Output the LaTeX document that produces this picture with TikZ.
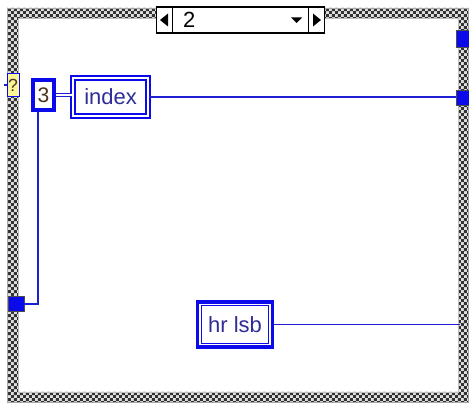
\documentclass[tikz,border=0pt]{standalone}
\usepackage{fontspec}
\setmainfont{Liberation Sans}
\usepackage{tikz}
\usetikzlibrary{positioning, calc, patterns}
\definecolor{lvblue}{RGB}{10,10,235}
\definecolor{wireblue}{RGB}{30,30,210}
\definecolor{lvtext}{RGB}{45,45,150}
\definecolor{qyellow}{RGB}{250,245,150}
\pgfdeclarepatternformonly{finechecker}{\pgfqpoint{0pt}{0pt}}{\pgfqpoint{3.4pt}{3.4pt}}{\pgfqpoint{3.4pt}{3.4pt}}%
  {\pgfpathrectangle{\pgfqpoint{0pt}{0pt}}{\pgfqpoint{1.7pt}{1.7pt}}%
   \pgfpathrectangle{\pgfqpoint{1.7pt}{1.7pt}}{\pgfqpoint{1.7pt}{1.7pt}}\pgfusepath{fill}}
\tikzset{
  selbox/.style={rectangle, draw=black, fill=white, line width=0.7pt, inner sep=0pt,
                 minimum width=3.36cm, minimum height=0.52cm},
  arrbox/.style={rectangle, draw=black, line width=0.7pt, inner sep=0pt,
                 minimum width=0.31cm, minimum height=0.52cm},
  tunnel/.style={rectangle, draw=black!70, fill=lvblue, line width=0.4pt, inner sep=0pt},
  const/.style={rectangle, draw=lvblue, fill=white, line width=1.9pt, inner sep=0pt,
                font=\fontsize{12}{14}\selectfont, text=brown!40!black},
  ctrl/.style={rectangle, draw=lvblue, double=white, line width=0.8pt, double distance=1.3pt,
               inner sep=0pt, font=\fontsize{12.5}{14}\selectfont, text=lvtext},
  ind/.style={rectangle, draw=lvblue, fill=white, line width=2pt, inner sep=0pt,
              font=\fontsize{12.5}{14}\selectfont, text=lvtext},
  wire/.style={draw=wireblue, line width=0.85pt}
}
\begin{document}
\begin{tikzpicture}[x=0.02cm, y=-0.02cm]
  \useasboundingbox (0,0) rectangle (469,404);
  % case frame
  \fill[gray!25, even odd rule] (7,8) rectangle (468,402) (18,18) rectangle (458,392);
  \fill[pattern=finechecker, pattern color=black!80, even odd rule]
    (7,8) rectangle (468,402) (18,18) rectangle (458,392);
  \draw[gray!70, line width=0.5pt] (7,8) rectangle (468,402);
  \draw[gray!50, line width=0.4pt] (18,18) rectangle (458,392);

  % selector label
  \node[selbox] (sel) at (240.5,20) {};
  \node[arrbox] (selL) at (164.5,20) {};
  \node[arrbox] (selR) at (316.5,20) {};
  \fill (selL.center) ++(-4.5,0) -- ++(8,-6.5) -- ++(0,13) -- cycle;
  \fill (selR.center) ++(4.5,0) -- ++(-8,-6.5) -- ++(0,13) -- cycle;
  \fill (selR.west) ++(-17,-2.5) -- ++(11,0) -- ++(-5.5,5.5) -- cycle;
  \node[anchor=west, inner sep=0pt, font=\fontsize{12.5}{14}\selectfont, xshift=0.2cm] (val) at (selL.east) {2};

  % terminals
  \node[rectangle, draw=lvblue, fill=qyellow, line width=0.5pt, inner sep=0pt,
        minimum width=0.24cm, minimum height=0.46cm, font=\fontsize{10}{11}\selectfont,
        text=brown!40!black] (q) at (13,85) {?};
  \node[const, minimum width=0.42cm, minimum height=0.6cm] (c3) at (43.5,95) {3};
  \node[ctrl, minimum width=1.5cm, minimum height=0.76cm] (idx) at (110.5,97) {index};
  \node[ind, minimum width=1.5cm, minimum height=0.9cm] (hr) at (235,324.5) {hr lsb};
  \draw[lvblue, line width=0.6pt] ($(hr.north west)+(5.5,5.5)$) rectangle ($(hr.south east)+(-5.5,-5.5)$);

  % tunnels
  \node[tunnel, minimum width=0.26cm, minimum height=0.34cm] (tunA) at (463,38.5) {};
  \node[tunnel, minimum width=0.26cm, minimum height=0.3cm] (tunB) at (463,98) {};
  \node[tunnel, minimum width=0.32cm, minimum height=0.3cm] (tunL) at (16,304) {};
  \coordinate (qIn) at (4,85);
  \coordinate (hrEnd) at (460,324.5);

  % wires
  \draw[wire] (qIn) -- (q.west);
  \draw[wire, double=white, double distance=1.6pt, line width=0.5pt] (c3.east) -- (c3.east -| idx.west);
  \draw[wire] (idx.east) -- (idx.east -| tunB.west);
  \draw[wire] ($(c3.south)+(-5.5,0)$) |- (tunL.east);
  \draw[wire] (hr.east) -- (hrEnd);
\end{tikzpicture}
\end{document}
